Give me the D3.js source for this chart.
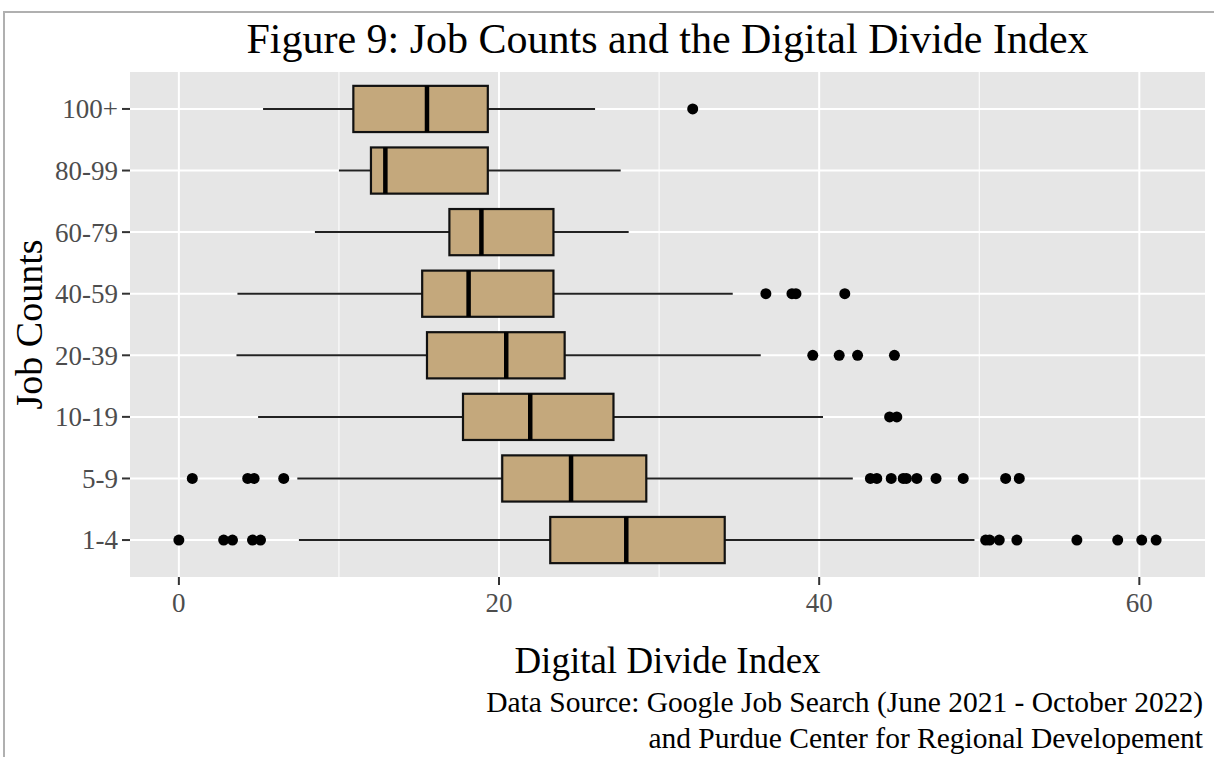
<!DOCTYPE html>
<html>
<head>
<meta charset="utf-8">
<script src="https://cdn.jsdelivr.net/npm/d3@7"></script>
<style>
  html, body { margin: 0; padding: 0; background: #fff; }
  svg { display: block; }
  text { font-family: "Liberation Serif", "Times New Roman", serif; }
</style>
</head>
<body>
<svg id="chart" width="1214" height="757"></svg>
<script>
// ---- Data (bottom to top) ----
const categories = ["1-4", "5-9", "10-19", "20-39", "40-59", "60-79", "80-99", "100+"];
const whiskerLow  = [7.5, 7.4, 4.95, 3.6, 3.66, 8.5, 10.0, 5.26];
const q1          = [23.2, 20.2, 17.75, 15.5, 15.2, 16.9, 12.0, 10.9];
const median      = [27.95, 24.5, 21.95, 20.45, 18.1, 18.9, 12.9, 15.5];
const q3          = [34.1, 29.2, 27.15, 24.1, 23.4, 23.4, 19.3, 19.3];
const whiskerHigh = [49.7, 42.1, 40.24, 36.35, 34.6, 28.1, 27.6, 26.0];
const outliers = [
  [0, 2.8, 3.35, 4.6, 5.1, 50.4, 50.65, 51.25, 52.35, 56.1, 58.65, 60.15, 61.05],
  [0.84, 4.3, 4.7, 6.55, 43.2, 43.6, 44.5, 45.25, 45.45, 46.1, 47.3, 49.0, 51.65, 52.5],
  [44.4, 44.85],
  [39.6, 41.25, 42.4, 44.7],
  [36.67, 38.3, 38.55, 41.6],
  [],
  [],
  [32.1]
];
const xTicks = [0, 20, 40, 60];
const xMinor = [10, 30, 50];

const titleText = "Figure 9: Job Counts and the Digital Divide Index";
const xTitle = "Digital Divide Index";
const yTitle = "Job Counts";
const captionLines = ["Data Source: Google Job Search (June 2021 - October 2022)",
                      "and Purdue Center for Regional Developement"];

// ---- Layout ----
const panel = { left: 130, right: 1205, top: 72, bottom: 577 };
const svg = d3.select("#chart");

// outer frame
svg.append("line").attr("x1", 3).attr("x2", 1214).attr("y1", 12).attr("y2", 12)
  .attr("stroke", "#b0b0b0").attr("stroke-width", 2);
svg.append("line").attr("x1", 4).attr("x2", 4).attr("y1", 12).attr("y2", 757)
  .attr("stroke", "#b0b0b0").attr("stroke-width", 2);

const allVals = whiskerLow.concat(whiskerHigh, outliers.flat());
const xmin = d3.min(allVals), xmax = d3.max(allVals);
const pad = (xmax - xmin) * 0.05;
const x = d3.scaleLinear().domain([xmin - pad, xmax + pad]).range([panel.left, panel.right]);
const y = d3.scalePoint().domain(categories.slice().reverse())
  .range([panel.top, panel.bottom]).padding(0.6);
const boxH = y.step() * 0.75;

// panel background
svg.append("rect").attr("x", panel.left).attr("y", panel.top)
  .attr("width", panel.right - panel.left).attr("height", panel.bottom - panel.top)
  .attr("fill", "#e6e6e6");

const grid = svg.append("g");
grid.selectAll(".minor").data(xMinor).join("line")
  .attr("x1", d => x(d)).attr("x2", d => x(d))
  .attr("y1", panel.top).attr("y2", panel.bottom)
  .attr("stroke", "#fff").attr("stroke-width", 1);
grid.selectAll(".majx").data(xTicks).join("line")
  .attr("x1", d => x(d)).attr("x2", d => x(d))
  .attr("y1", panel.top).attr("y2", panel.bottom)
  .attr("stroke", "#fff").attr("stroke-width", 2);
grid.selectAll(".majy").data(categories).join("line")
  .attr("x1", panel.left).attr("x2", panel.right)
  .attr("y1", d => y(d)).attr("y2", d => y(d))
  .attr("stroke", "#fff").attr("stroke-width", 2);

// boxes
const rows = categories.map((c, i) => ({
  c, lo: whiskerLow[i], q1: q1[i], med: median[i], q3: q3[i], hi: whiskerHigh[i], out: outliers[i]
}));
const g = svg.append("g");
g.selectAll(".wl").data(rows).join("line")
  .attr("x1", d => x(d.lo)).attr("x2", d => x(d.q1))
  .attr("y1", d => y(d.c)).attr("y2", d => y(d.c))
  .attr("stroke", "#222").attr("stroke-width", 2);
g.selectAll(".wh").data(rows).join("line")
  .attr("x1", d => x(d.q3)).attr("x2", d => x(d.hi))
  .attr("y1", d => y(d.c)).attr("y2", d => y(d.c))
  .attr("stroke", "#222").attr("stroke-width", 2);
g.selectAll(".box").data(rows).join("rect")
  .attr("x", d => x(d.q1)).attr("width", d => x(d.q3) - x(d.q1))
  .attr("y", d => y(d.c) - boxH / 2).attr("height", boxH)
  .attr("fill", "#c4a87c").attr("stroke", "#111").attr("stroke-width", 2.2);
g.selectAll(".med").data(rows).join("line")
  .attr("x1", d => x(d.med)).attr("x2", d => x(d.med))
  .attr("y1", d => y(d.c) - boxH / 2).attr("y2", d => y(d.c) + boxH / 2)
  .attr("stroke", "#000").attr("stroke-width", 4.5);
rows.forEach(r => {
  g.selectAll(null).data(r.out).join("circle")
    .attr("cx", d => x(d)).attr("cy", y(r.c)).attr("r", 5.5).attr("fill", "#000");
});

// axes ticks & labels
const axisG = svg.append("g");
axisG.selectAll(".yt").data(categories).join("line")
  .attr("x1", panel.left - 8).attr("x2", panel.left)
  .attr("y1", d => y(d)).attr("y2", d => y(d))
  .attr("stroke", "#333").attr("stroke-width", 2);
axisG.selectAll(".yl").data(categories).join("text")
  .attr("x", panel.left - 12).attr("y", d => y(d)).attr("dy", "0.35em")
  .attr("text-anchor", "end").attr("font-size", 27).attr("fill", "#4d4d4d")
  .text(d => d);
axisG.selectAll(".xt").data(xTicks).join("line")
  .attr("x1", d => x(d)).attr("x2", d => x(d))
  .attr("y1", panel.bottom).attr("y2", panel.bottom + 8)
  .attr("stroke", "#333").attr("stroke-width", 2);
axisG.selectAll(".xl").data(xTicks).join("text")
  .attr("x", d => x(d)).attr("y", 612)
  .attr("text-anchor", "middle").attr("font-size", 27).attr("fill", "#4d4d4d")
  .text(d => d);

// titles
const cx = (panel.left + panel.right) / 2;
svg.append("text").attr("x", cx).attr("y", 53).attr("text-anchor", "middle")
  .attr("font-size", 42).attr("fill", "#000").text(titleText);
svg.append("text").attr("x", cx).attr("y", 673).attr("text-anchor", "middle")
  .attr("font-size", 37).attr("fill", "#000").text(xTitle);
svg.append("text").attr("transform", `translate(42,${(panel.top + panel.bottom) / 2}) rotate(-90)`)
  .attr("text-anchor", "middle").attr("font-size", 38).attr("fill", "#000").text(yTitle);
svg.selectAll(".cap").data(captionLines).join("text")
  .attr("x", 1203).attr("y", (d, i) => 712 + i * 36)
  .attr("text-anchor", "end").attr("font-size", 29.5).attr("fill", "#000")
  .text(d => d);
</script>
</body>
</html>
